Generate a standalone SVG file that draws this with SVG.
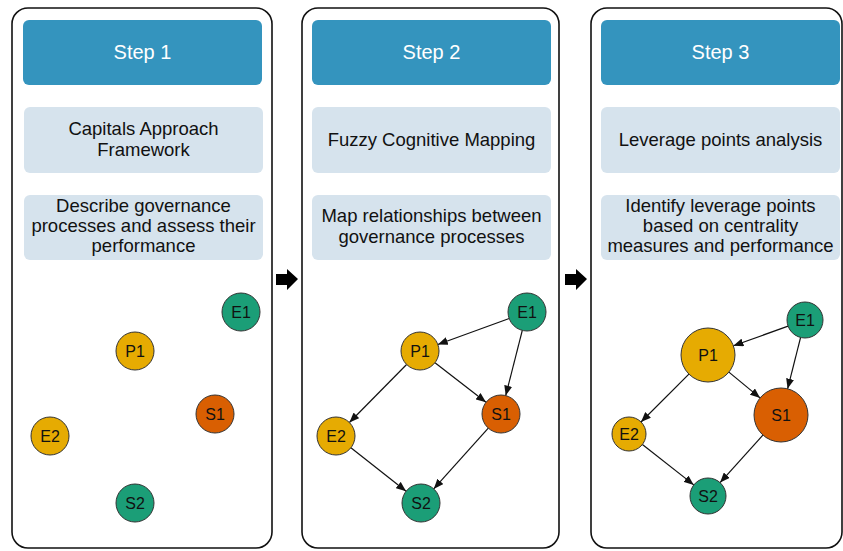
<svg xmlns="http://www.w3.org/2000/svg" width="843" height="551" viewBox="0 0 843 551">
<defs>
<style>
.panel{fill:#fff;stroke:#111;stroke-width:1.6}
.hdr{fill:#3494BE}
.box{fill:#D6E3ED}
.ht{font-family:"Liberation Sans",Arial,sans-serif;font-size:20px;fill:#fff;text-anchor:middle}
.bt{font-family:"Liberation Sans",Arial,sans-serif;font-size:18.5px;fill:#111;text-anchor:middle}
.nl{font-family:"Liberation Sans",Arial,sans-serif;font-size:16px;fill:#111;text-anchor:middle}
.g{fill:#1B9E77;stroke:#333;stroke-width:1}
.y{fill:#E6AB02;stroke:#333;stroke-width:1}
.o{fill:#D95F02;stroke:#333;stroke-width:1}
.e{stroke:#111;stroke-width:1.2;fill:none;marker-end:url(#ah)}
</style>
<marker id="ah" markerUnits="userSpaceOnUse" markerWidth="10" markerHeight="8" viewBox="0 0 10 8" refX="10" refY="4" orient="auto">
<path d="M0,0 L10,4 L0,8 Z" fill="#111"/>
</marker>
</defs>

<g id="panel1">
<rect class="panel" x="12" y="8" width="260" height="540" rx="16"/>
<rect class="hdr" x="23" y="20" width="239" height="65" rx="6"/>
<text class="ht" x="142.5" y="59">Step 1</text>
<rect class="box" x="24" y="107" width="239" height="66" rx="6"/>
<text class="bt" x="143.5" y="135">Capitals Approach</text>
<text class="bt" x="143.5" y="156">Framework</text>
<rect class="box" x="24" y="195" width="239" height="65" rx="6"/>
<text class="bt" x="143.5" y="212">Describe governance</text>
<text class="bt" x="143.5" y="232">processes and assess their</text>
<text class="bt" x="143.5" y="252">performance</text>
</g>

<g id="panel2">
<rect class="panel" x="302" y="8" width="257" height="540" rx="16"/>
<rect class="hdr" x="312" y="20" width="239" height="65" rx="6"/>
<text class="ht" x="431.5" y="59">Step 2</text>
<rect class="box" x="312" y="107" width="239" height="66" rx="6"/>
<text class="bt" x="431.5" y="146">Fuzzy Cognitive Mapping</text>
<rect class="box" x="312" y="195" width="239" height="65" rx="6"/>
<text class="bt" x="431.5" y="222">Map relationships between</text>
<text class="bt" x="431.5" y="243">governance processes</text>
</g>

<g id="panel3">
<rect class="panel" x="591" y="8" width="251" height="540" rx="16"/>
<rect class="hdr" x="601" y="20" width="239" height="65" rx="6"/>
<text class="ht" x="720.5" y="59">Step 3</text>
<rect class="box" x="601" y="107" width="239" height="66" rx="6"/>
<text class="bt" x="720.5" y="146">Leverage points analysis</text>
<rect class="box" x="601" y="195" width="239" height="65" rx="6"/>
<text class="bt" x="720.5" y="212">Identify leverage points</text>
<text class="bt" x="720.5" y="232">based on centrality</text>
<text class="bt" x="720.5" y="252">measures and performance</text>
</g>

<g id="step-arrows">
<path d="M276,274 L287,274 L287,269 L298,279 L287,290 L287,285 L276,285 Z" fill="#000"/>
<path d="M565,274 L576,274 L576,269 L587,279 L576,290 L576,285 L565,285 Z" fill="#000"/>
</g>

<g id="connectors">
<line class="e" x1="509.2" y1="318.5" x2="437.8" y2="344.5"/>
<line class="e" x1="522.3" y1="330.4" x2="505.7" y2="395.6"/>
<line class="e" x1="435" y1="362.7" x2="486" y2="402.3"/>
<line class="e" x1="406.6" y1="364.5" x2="349.4" y2="422.5"/>
<line class="e" x1="350.9" y1="447.8" x2="406.1" y2="491.2"/>
<line class="e" x1="488.3" y1="428.1" x2="433.7" y2="488.9"/>
<line class="e" x1="788.1" y1="326.1" x2="733.4" y2="345.8"/>
<line class="e" x1="800.6" y1="337.4" x2="787.6" y2="388.8"/>
<line class="e" x1="728.9" y1="372.1" x2="760.1" y2="397.9"/>
<line class="e" x1="688.9" y1="374.1" x2="641" y2="422"/>
<line class="e" x1="642.4" y1="444.5" x2="693.8" y2="484.9"/>
<line class="e" x1="762.9" y1="435.1" x2="720.1" y2="482.6"/>
</g>

<g id="p1-E1"><circle class="g" cx="241" cy="312" r="19"/><text class="nl" x="241" y="318">E1</text></g>
<g id="p1-P1"><circle class="y" cx="135" cy="351" r="19"/><text class="nl" x="135" y="357">P1</text></g>
<g id="p1-S1"><circle class="o" cx="215" cy="414" r="19"/><text class="nl" x="215" y="420">S1</text></g>
<g id="p1-E2"><circle class="y" cx="50" cy="436" r="19"/><text class="nl" x="50" y="442">E2</text></g>
<g id="p1-S2"><circle class="g" cx="135" cy="503" r="19"/><text class="nl" x="135" y="509">S2</text></g>

<g id="p2-E1"><circle class="g" cx="527" cy="312" r="19"/><text class="nl" x="527" y="318">E1</text></g>
<g id="p2-P1"><circle class="y" cx="420" cy="351" r="19"/><text class="nl" x="420" y="357">P1</text></g>
<g id="p2-S1"><circle class="o" cx="501" cy="414" r="19"/><text class="nl" x="501" y="420">S1</text></g>
<g id="p2-E2"><circle class="y" cx="336" cy="436" r="19"/><text class="nl" x="336" y="442">E2</text></g>
<g id="p2-S2"><circle class="g" cx="421" cy="503" r="19"/><text class="nl" x="421" y="509">S2</text></g>

<g id="p3-E1"><circle class="g" cx="805" cy="320" r="18"/><text class="nl" x="805" y="326">E1</text></g>
<g id="p3-P1"><circle class="y" cx="708" cy="355" r="27"/><text class="nl" x="708" y="361">P1</text></g>
<g id="p3-S1"><circle class="o" cx="781" cy="415" r="27"/><text class="nl" x="781" y="421">S1</text></g>
<g id="p3-E2"><circle class="y" cx="629" cy="434" r="17"/><text class="nl" x="629" y="440">E2</text></g>
<g id="p3-S2"><circle class="g" cx="708" cy="496" r="18"/><text class="nl" x="708" y="502">S2</text></g>
</svg>
